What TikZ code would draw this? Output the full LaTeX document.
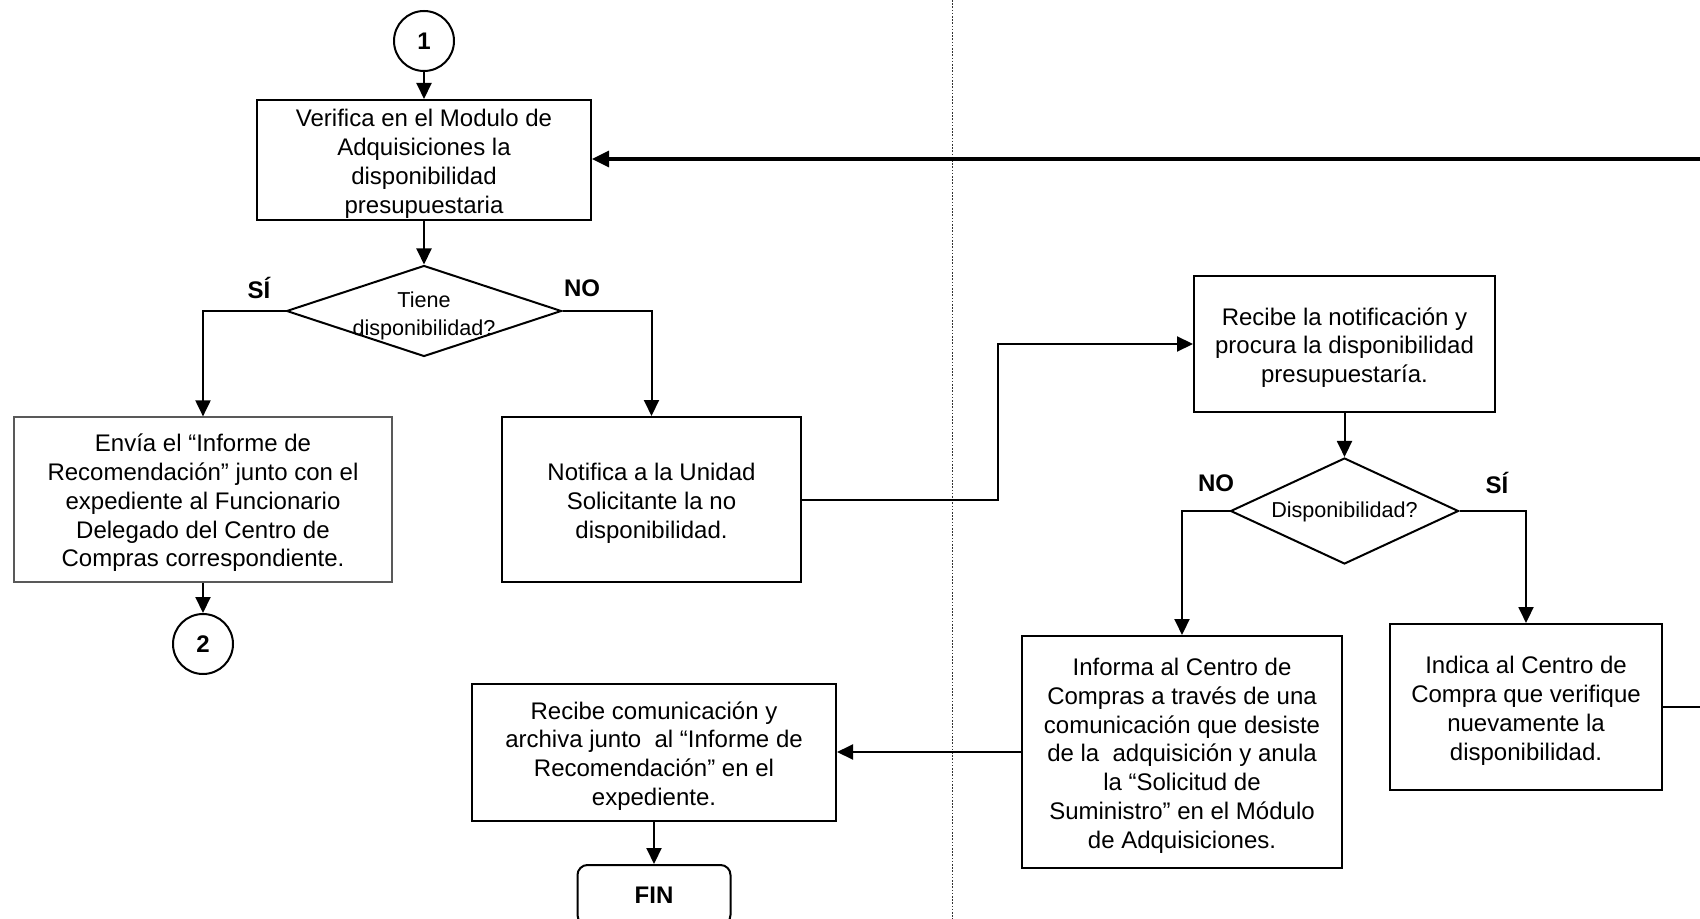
\documentclass[tikz,border=0pt]{standalone}
\usepackage{fontspec}
\setmainfont{Liberation Sans}
\usetikzlibrary{shapes.geometric,arrows.meta}
% a little extra room above the first line of each box text
\newcommand\boxlift{\rule{0pt}{12.3pt}}

\begin{document}
\begin{tikzpicture}[x=0.5pt,y=-0.5pt,
  font=\fontsize{12}{14.4}\selectfont,
  line/.style={line width=1pt, draw=black},
  arr/.style={line, -{Triangle[length=8pt,width=7.5pt]}},
  procbox/.style={draw=black, line width=1pt, align=center, inner xsep=2pt, inner ysep=0pt},
  softbox/.style={procbox, draw=black!65, line width=0.6pt},
  connector/.style={circle, draw=black, line width=1pt, minimum size=30pt, inner sep=0pt,
    font=\fontsize{12}{14.4}\selectfont\bfseries},
  decision/.style={diamond, draw=black, line width=1pt, inner sep=0pt, aspect=3},
  dtext/.style={align=center, font=\fontsize{10.8}{13.8}\selectfont},
  tag/.style={font=\fontsize{12}{14.4}\selectfont\bfseries},
  endbox/.style={draw=black, line width=1pt, rounded corners=5pt, align=center,
    font=\fontsize{12}{14.4}\selectfont\bfseries},
  lane/.style={line width=0.5pt, black!80, dash pattern=on 0.8pt off 0.8pt}]

\useasboundingbox (0,0) rectangle (1700,919);

% lane separator
\coordinate (laneT) at (952,0);
\coordinate (laneB) at (952,919);
\draw[lane] (laneT) -- (laneB);

% nodes
\node[connector] (c1) at (424,41) {1};
\node[procbox, minimum width=167pt, minimum height=60pt] (verifica) at (424,160)
  {\boxlift Verifica en el Modulo de\\Adquisiciones la\\disponibilidad\\presupuestaria};
\node[decision, minimum width=137.5pt, minimum height=45.5pt] (d1) at (424,311) {};
\node[dtext] (d1t) at (424,316) {Tiene\\disponibilidad?};
\node[tag] (si1) at (259,288) {SÍ};
\node[tag] (no1) at (582,288) {NO};

\node[softbox, minimum width=189pt, minimum height=82.5pt] (envia) at (203,499.5)
  {\boxlift Envía el “Informe de\\Recomendación” junto con el\\expediente al Funcionario\\Delegado del Centro de\\Compras correspondiente.};
\node[connector] (c2) at (203,644) {2};

\node[procbox, minimum width=149.5pt, minimum height=82.5pt] (notifica) at (651.5,499.5)
  {\boxlift Notifica a la Unidad\\Solicitante la no\\disponibilidad.};

\node[procbox, minimum width=150.5pt, minimum height=68pt] (recibe1) at (1344.5,344)
  {\boxlift Recibe la notificación y\\procura la disponibilidad\\presupuestaría.};
\node[decision, minimum width=114pt, minimum height=53pt] (d2) at (1344.5,511) {};
\node[dtext] (d2t) at (1344.5,512) {Disponibilidad?};
\node[tag] (no2) at (1216,483) {NO};
\node[tag] (si2) at (1497,483) {SÍ};

\node[procbox, minimum width=160pt, minimum height=116pt] (informa) at (1182,752)
  {\boxlift Informa al Centro de\\Compras a través de una\\comunicación que desiste\\de la \ adquisición y anula\\la “Solicitud de\\Suministro” en el Módulo\\de Adquisiciones.};
\node[procbox, minimum width=136pt, minimum height=83pt] (indica) at (1526,707)
  {\boxlift Indica al Centro de\\Compra que verifique\\nuevamente la\\disponibilidad.};

\node[procbox, minimum width=182pt, minimum height=68.5pt] (recibe2) at (654,752.5)
  {\boxlift Recibe comunicación y\\archiva junto \ al “Informe de\\Recomendación” en el\\expediente.};
\node[endbox, minimum width=76.5pt, minimum height=30pt] (fin) at (654,895) {FIN};

% connectors
\draw[arr] (c1) -- (verifica);
\draw[arr] (verifica) -- (d1);
\draw[arr] (d1.west) -| (envia.north);
\draw[arr] (d1.east) -| (notifica.north);
\draw[arr] (envia) -- (c2);
\draw[arr] (notifica.east) -- ++(196,0) |- (recibe1.west);
\draw[arr] (recibe1) -- (d2);
\draw[arr] (d2.west) -| (informa.north);
\draw[arr] (d2.east) -| (indica.north);
\draw[arr] (informa.west) -- (recibe2.east |- informa.west);
\draw[arr] (recibe2) -- (fin);

% return path from the right-hand lane
\coordinate (retB) at (1712,707);
\coordinate (retT) at (1712,159);
\draw[line] (indica.east) -- (retB) -- (retT);
\draw[line, line width=1.6pt, -{Triangle[length=8.5pt,width=8pt]}] (retT) -- (verifica.east |- retT);

\end{tikzpicture}
\end{document}
